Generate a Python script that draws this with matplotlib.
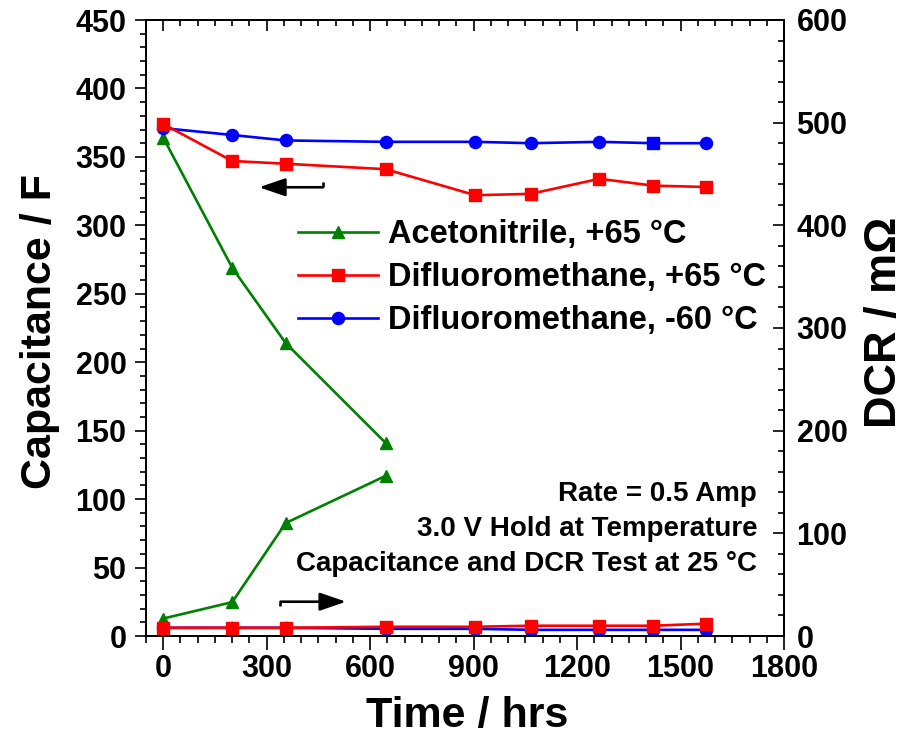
import matplotlib
matplotlib.use('Agg')
import matplotlib.pyplot as plt
from matplotlib.ticker import MultipleLocator, FixedLocator

plt.rcParams['font.family'] = ['Liberation Sans', 'DejaVu Sans']
plt.rcParams['font.weight'] = 'bold'

# ---------------- data ----------------
time_acn = [0, 200, 355, 645]
cap_acn = [364, 269, 214, 141]
dcr_acn = [17, 33, 110, 156]

time_dfm = [0, 200, 355, 645, 905, 1065, 1265, 1420, 1575]
cap_dfm_hot = [374, 347, 345, 341, 322, 323, 334, 329, 328]
dcr_dfm_hot = [8, 8, 8, 9, 9, 10, 10, 10, 12]
cap_dfm_cold = [371, 366, 362, 361, 361, 360, 361, 360, 360]
dcr_dfm_cold = [8, 8, 8, 7, 7, 6, 6, 6, 6]
# marker shape used for each -60 °C capacitance point in the original
cold_cap_markers = ['o', 'o', 'o', 'o', 'o', 'o', 'o', 's', 'o']

series_labels = ['Acetonitrile, +65 °C', 'Difluoromethane, +65 °C', 'Difluoromethane, -60 °C']
notes = ['Rate = 0.5 Amp', '3.0 V Hold at Temperature', 'Capacitance and DCR Test at 25 °C']

x_ticks = [0, 300, 600, 900, 1200, 1500, 1800]
cap_ticks = [0, 50, 100, 150, 200, 250, 300, 350, 400, 450]
dcr_ticks = [0, 100, 200, 300, 400, 500, 600]

# arrow annotations (data coords)
left_arrow = dict(tail=(463, 327.8), tip=(278, 327.8), hook=331.9)     # left axis units
right_arrow = dict(tail=(340, 33.4), tip=(530, 33.4), hook=29.5)       # right axis units

GREEN, RED, BLUE = '#008000', '#FF0000', '#0000FF'
LW, MS = 1.9, 8.7

fig = plt.figure(figsize=(9.06, 7.38), dpi=100)
ax = fig.add_axes([146 / 906, 102 / 738, 638 / 906, 616 / 738])
ax2 = ax.twinx()

ax.set_xlim(-50, 1800)
ax.set_ylim(0, 450)
ax2.set_ylim(0, 600)

# capacitance (left)
l1, = ax.plot(time_acn, cap_acn, color=GREEN, lw=LW, marker='^', ms=MS, label=series_labels[0])
circ_idx = [i for i, m in enumerate(cold_cap_markers) if m == 'o']
sq_idx = [i for i, m in enumerate(cold_cap_markers) if m == 's']
l3, = ax.plot(time_dfm, cap_dfm_cold, color=BLUE, lw=LW, marker='o', ms=MS,
              markevery=circ_idx, label=series_labels[2])
ax.plot([time_dfm[i] for i in sq_idx], [cap_dfm_cold[i] for i in sq_idx],
        ls='none', marker='s', ms=MS, color=BLUE)
l2, = ax.plot(time_dfm, cap_dfm_hot, color=RED, lw=LW, marker='s', ms=MS, label=series_labels[1])

# DCR (right)
ax2.plot(time_acn, dcr_acn, color=GREEN, lw=LW, marker='^', ms=MS)
ax2.plot(time_dfm, dcr_dfm_cold, color=BLUE, lw=LW, marker='o', ms=MS)
ax2.plot(time_dfm, dcr_dfm_hot, color=RED, lw=LW, marker='s', ms=MS)

# ticks
ax.xaxis.set_major_locator(FixedLocator(x_ticks))
ax.xaxis.set_minor_locator(MultipleLocator(50))
ax.yaxis.set_major_locator(FixedLocator(cap_ticks))
ax.yaxis.set_minor_locator(MultipleLocator(10))
ax2.yaxis.set_major_locator(FixedLocator(dcr_ticks))
ax2.yaxis.set_minor_locator(MultipleLocator(20))

ax.tick_params(axis='x', which='major', direction='out', length=10, width=1.2, pad=3, labelsize=22)
ax.tick_params(axis='x', which='minor', direction='out', length=5, width=1.2)
ax.tick_params(axis='y', which='major', direction='out', length=8, width=1.2, pad=6, labelsize=22, right=False)
ax.tick_params(axis='y', which='minor', direction='out', length=4, width=1.2, right=False)
ax2.tick_params(axis='y', which='major', direction='in', length=8, width=1.2, pad=9, labelsize=22, left=False)
ax2.tick_params(axis='y', which='minor', direction='in', length=4, width=1.2, left=False)

top = ax.secondary_xaxis('top')
top.xaxis.set_major_locator(FixedLocator(x_ticks))
top.xaxis.set_minor_locator(MultipleLocator(50))
top.tick_params(axis='x', which='major', direction='in', length=8, width=1.2, labeltop=False)
top.tick_params(axis='x', which='minor', direction='in', length=4, width=1.2)

for a in (ax, ax2):
    for s in a.spines.values():
        s.set_linewidth(1.3)
for s in top.spines.values():
    s.set_linewidth(1.3)

for lab in ax.get_xticklabels() + ax.get_yticklabels() + ax2.get_yticklabels():
    lab.set_fontweight('bold')

# axis labels
ax.set_xlabel('Time / hrs', fontsize=31, fontweight='bold')
ax.xaxis.set_label_coords(0.503, -0.098)
ax.xaxis.label.set_va('top')
ax.set_ylabel('Capacitance / F', fontsize=31, fontweight='bold', va='center')
ax.yaxis.set_label_coords(-0.166, 0.494)
ax2.set_ylabel('DCR / mΩ', fontsize=32.5, fontweight='bold', rotation=90, va='center')
ax2.yaxis.set_label_coords(1.157, 0.51)

# legend
leg = ax2.legend(handles=[l1, l2, l3], loc='upper left', bbox_to_anchor=(0.238, 0.677),
                 frameon=False, fontsize=23.5, handlelength=2.45, handletextpad=0.3,
                 labelspacing=0.37, borderpad=0, borderaxespad=0)
for t in leg.get_texts():
    t.set_fontweight('bold')

# notes
note_y = [0.2305, 0.1737, 0.1169]
for txt, yy in zip(notes, note_y):
    ax.text(0.958, yy, txt, transform=ax.transAxes, ha='right', va='center',
            fontsize=20, fontweight='bold')

# arrows
def draw_arrow(a, spec):
    (x0, y0), (x1, y1), hk = spec['tail'], spec['tip'], spec['hook']
    a.plot([x0, x0], [hk, y0], color='k', lw=1.9, solid_capstyle='butt')
    a.annotate('', xy=(x1, y1), xytext=(x0, y0),
               arrowprops=dict(arrowstyle='-|>,head_length=1.6,head_width=0.55',
                               mutation_scale=10, lw=1.9, color='k',
                               shrinkA=0, shrinkB=0))

draw_arrow(ax, left_arrow)
draw_arrow(ax2, right_arrow)

fig.savefig('out.png', dpi=100)
